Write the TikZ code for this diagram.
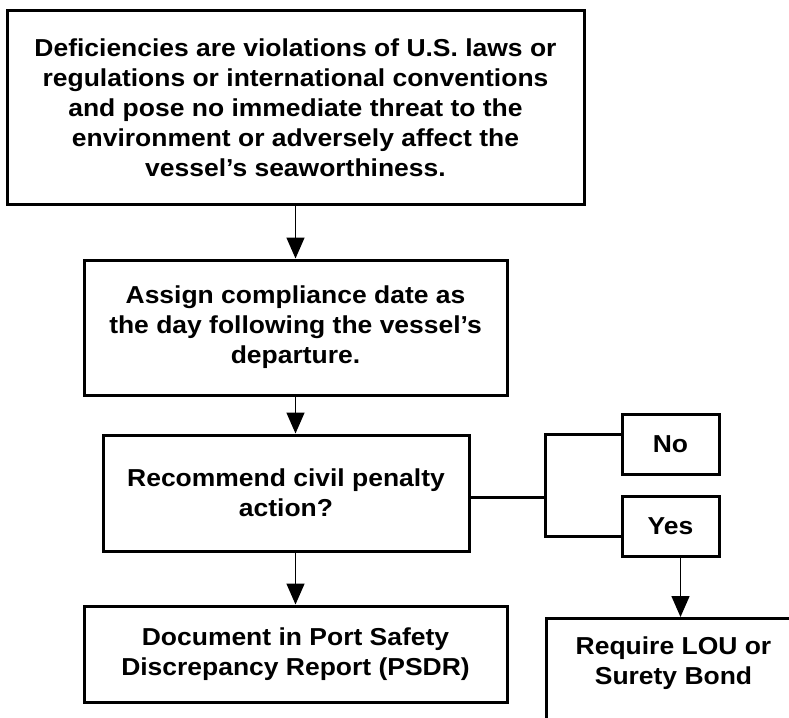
\documentclass[tikz,border=0pt]{standalone}
\usepackage{fontspec}
\setmainfont{Liberation Sans}[FakeStretch=1.08]
\usetikzlibrary{arrows.meta}

\begin{document}
\begin{tikzpicture}[x=1pt, y=-1pt,
        box/.style={draw, line width=3pt, align=center, inner sep=0pt,
            font=\bfseries\fontsize{24.5}{30}\selectfont},
        arr/.style={line width=1.5pt, -{Triangle[width=18pt,length=21pt]}},
        link/.style={line width=3pt}]
        \useasboundingbox (0,0) rectangle (789,717);
        \clip (0,0) rectangle (789,717);
        %\draw[gray, dashed] (0,0) grid[step=50] (789,717);

        \node[box, minimum width=577, minimum height=193] (defic) at (295.5,107.5)
            {Deficiencies are violations of U.S. laws or\\regulations or international conventions\\and pose no immediate threat to the\\environment or adversely affect the\\vessel’s seaworthiness.};
        \node[box, minimum width=423, minimum height=135] (assign) at (295.5,327.5)
            {Assign compliance date as\\the day following the vessel’s\\departure.};
        \node[box, minimum width=366, minimum height=116] (civil) at (286,493)
            {Recommend civil penalty\\action?};
        \node[box, minimum width=423, minimum height=96] (psdr) at (295.5,654)
            {Document in Port Safety\\Discrepancy Report (PSDR)};

        \node[box, minimum width=97, minimum height=60] (no) at (670.5,444) {No};
        \node[box, minimum width=97, minimum height=60] (yes) at (670.5,526) {Yes};
        \node[box, anchor=north west, minimum width=254, inner ysep=18pt] (lou) at (545,617)
            {\parbox[t][95pt][t]{240pt}{\centering Require LOU or\\Surety Bond}};

        \draw[arr] (defic) -- (assign);
        \draw[arr] (assign.south) -- (assign.south |- civil.north);
        \draw[arr] (psdr.north |- civil.south) -- (psdr.north);

        \coordinate (fork) at (545,497);
        \draw[link] ([yshift=-4pt]civil.east) -- (fork);
        \draw[link] ([yshift=10pt]no.west) -| (fork) |- ([yshift=-10pt]yes.west);
        \draw[arr] ([xshift=10pt]yes.south) -- ([xshift=10pt]yes.south |- lou.north);
    \end{tikzpicture}
\end{document}
